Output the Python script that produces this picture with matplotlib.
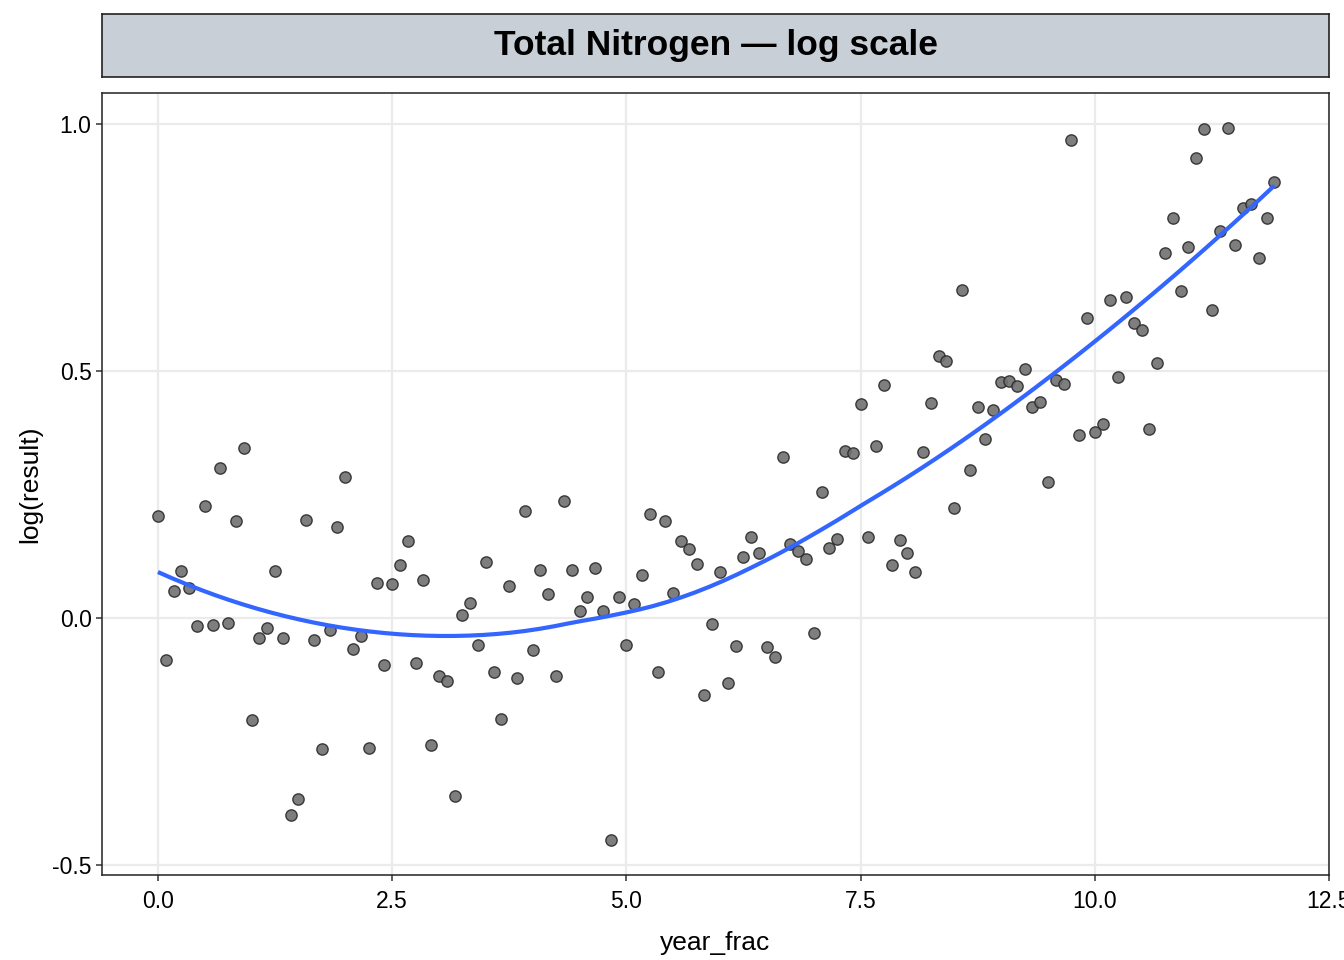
import numpy as np
import matplotlib
matplotlib.use("Agg")
import matplotlib.pyplot as plt

plt.rcParams['font.family'] = ['Liberation Sans', 'DejaVu Sans']

# monthly samples, year_frac = month / 12
month_idx = np.arange(144)
log_result = [
    0.206, -0.085, 0.055, 0.095, 0.060, -0.016, 0.227, -0.014, 0.304, -0.010, 0.196, 0.344,
    -0.206, -0.040, -0.020, 0.095, -0.040, -0.399, -0.366, 0.198, -0.045, -0.265, -0.024, 0.184,
    0.285, -0.063, -0.036, -0.263, 0.071, -0.095, 0.069, 0.107, 0.156, -0.091, 0.077, -0.257,
    -0.117, -0.128, -0.360, 0.006, 0.030, -0.055, 0.113, -0.109, -0.204, 0.065, -0.121, 0.217,
    -0.065, 0.097, 0.049, -0.117, 0.237, 0.097, 0.014, 0.043, 0.101, 0.014, -0.449, 0.043,
    -0.055, 0.028, 0.087, 0.211, -0.109, 0.196, 0.051, 0.156, 0.140, 0.109, -0.156, -0.012,
    0.093, -0.132, -0.057, 0.123, 0.164, 0.132, -0.059, -0.079, 0.326, 0.150, 0.136, 0.119,
    -0.030, 0.255, 0.142, 0.160, 0.338, 0.334, 0.433, 0.164, 0.348, 0.472, 0.107, 0.158,
    0.132, 0.093, 0.336, 0.435, 0.530, 0.520, 0.223, 0.664, 0.300, 0.427, 0.362, 0.421,
    0.478, 0.480, 0.470, 0.504, 0.427, 0.437, 0.275, 0.482, 0.474, 0.968, 0.370, 0.607,
    0.377, 0.393, 0.644, 0.488, 0.650, 0.597, 0.583, 0.383, 0.516, 0.739, 0.810, 0.662,
    0.751, 0.931, 0.990, 0.623, 0.783, 0.992, 0.755, 0.830, 0.838, 0.729, 0.810, 0.883,
]
x_ticks = [0.0, 2.5, 5.0, 7.5, 10.0, 12.5]
y_ticks = [-0.5, 0.0, 0.5, 1.0]


def loess(x, y, xs, span=0.75):
    """ local quadratic fit with tricube weights (like geom_smooth default) """
    n = len(x)
    k = int(np.ceil(span * n))
    out = []
    for x0 in xs:
        d = np.abs(x - x0)
        h = np.sort(d)[k - 1]
        w = np.clip(1 - (d / h) ** 3, 0, None) ** 3
        X = np.column_stack([np.ones(n), x - x0, (x - x0) ** 2])
        W = np.sqrt(w)
        beta = np.linalg.lstsq(X * W[:, None], y * W, rcond=None)[0]
        out.append(beta[0])
    return np.array(out)


year_frac = month_idx / 12.0
y = np.array(log_result)
xs = np.linspace(year_frac.min(), year_frac.max(), 80)
ys = loess(year_frac, y, xs)

fig = plt.figure(figsize=(13.44, 9.6), dpi=100)
W, H = 1344, 960
ax = fig.add_axes([102 / W, 1 - 875 / H, (1329 - 102) / W, (875 - 93) / H])

ax.scatter(year_frac, y, s=66, color='#707070', edgecolors='#2b2b2b',
           linewidths=1.0, alpha=0.9, zorder=3)
ax.plot(xs, ys, color='#3366FF', lw=3.0, zorder=4, solid_capstyle='butt')

ax.set_xlim(-0.597, 12.49)
ax.set_ylim(-0.520, 1.063)
ax.set_xticks(x_ticks)
ax.set_xticklabels(['%.1f' % t for t in x_ticks])
ax.set_yticks(y_ticks)
ax.set_yticklabels(['%.1f' % t for t in y_ticks])
ax.grid(True, color='#EBEBEB', lw=1.6, zorder=0)
ax.set_axisbelow(True)
for sp in ax.spines.values():
    sp.set_color('#222222')
    sp.set_linewidth(1.1)
ax.tick_params(colors='#333333', labelcolor='black', labelsize=16.5,
               length=4.5, width=1.1, pad=3)
ax.tick_params(axis='x', pad=6)
ax.set_xlabel('year_frac', fontsize=19, labelpad=13)
ax.set_ylabel('log(result)', fontsize=19, labelpad=7)

# facet strip
strip = fig.add_axes([102 / W, 1 - 77 / H, (1329 - 102) / W, (77 - 14) / H])
strip.set_xticks([])
strip.set_yticks([])
strip.set_facecolor('#C8CFD6')
for sp in strip.spines.values():
    sp.set_color('#222222')
    sp.set_linewidth(1.2)
strip.text(0.5, 0.5, 'Total Nitrogen — log scale', ha='center', va='center',
           fontsize=25.5, fontweight='bold', transform=strip.transAxes)

fig.savefig('out.png', dpi=100)
